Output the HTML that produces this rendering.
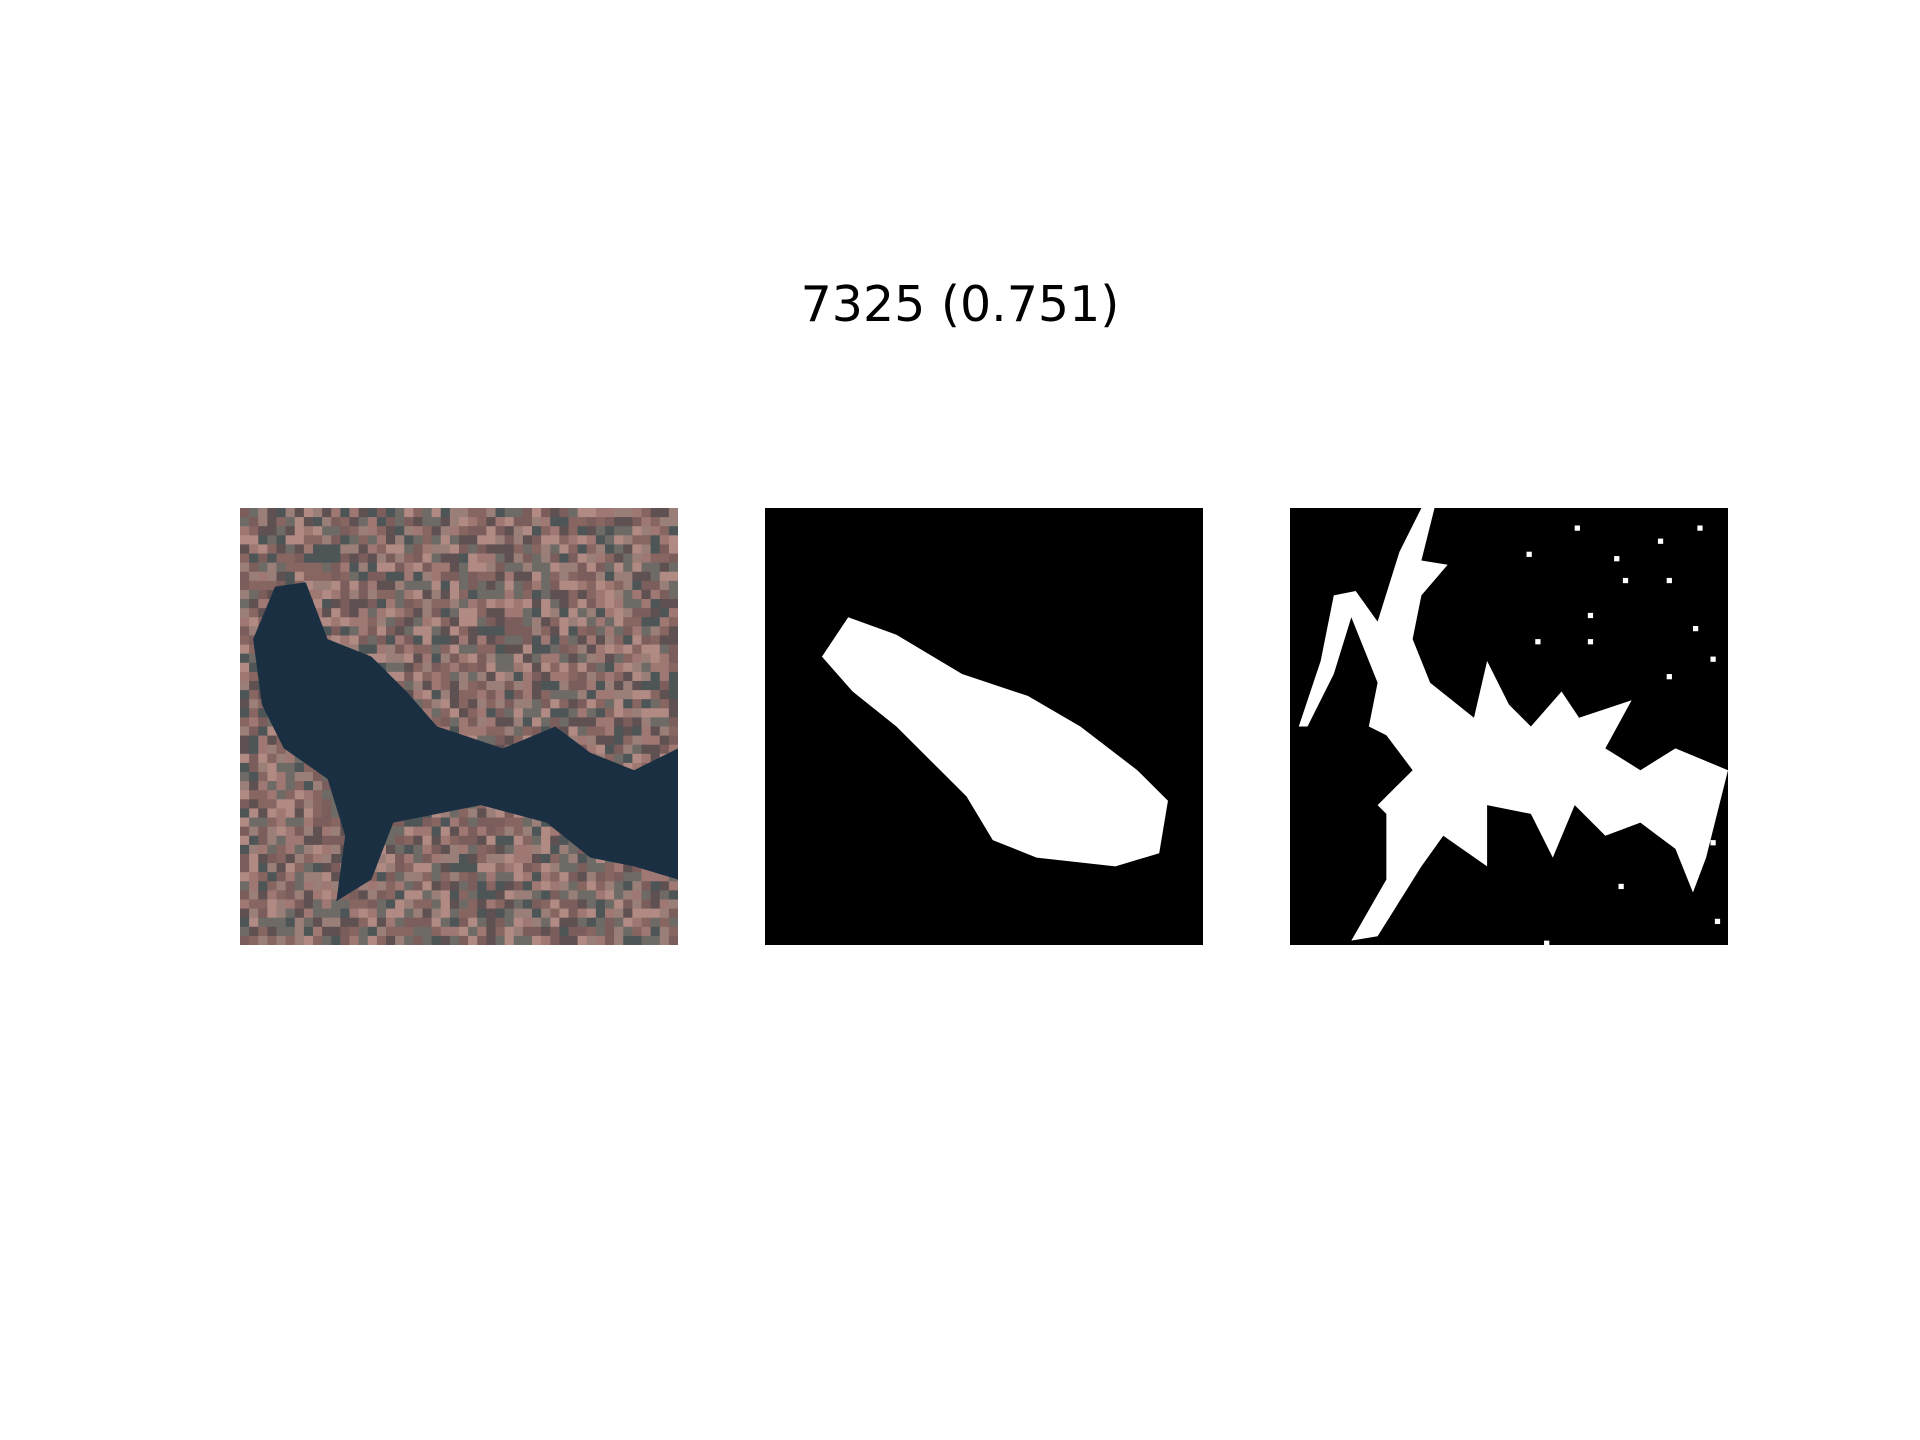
<!DOCTYPE html>
<html><head><meta charset="utf-8"><style>
html,body{margin:0;padding:0;background:#fff;width:1920px;height:1440px;overflow:hidden}
#title{position:absolute;left:0;width:1920px;top:276px;text-align:center;font:49px "DejaVu Sans","Liberation Sans",sans-serif;color:#000}
svg{position:absolute;top:508px}
</style></head><body>
<div id="title">7325 (0.751)</div>
<svg id="p1" style="left:240px" width="438" height="437" viewBox="0 0 1 1" preserveAspectRatio="none"></svg>
<svg id="p2" style="left:765px" width="438" height="437" viewBox="0 0 1 1" preserveAspectRatio="none"></svg>
<svg id="p3" style="left:1290px" width="438" height="437" viewBox="0 0 1 1" preserveAspectRatio="none"></svg>
<script>
const NS='http://www.w3.org/2000/svg';
const lakeShape=[[0.08,0.18],[0.15,0.17],[0.2,0.3],[0.3,0.34],[0.38,0.42],[0.45,0.5],[0.6,0.55],[0.72,0.5],[0.8,0.56],[0.9,0.6],[1,0.55],[1,0.85],[0.9,0.82],[0.8,0.8],[0.7,0.72],[0.55,0.68],[0.45,0.7],[0.35,0.72],[0.3,0.85],[0.22,0.9],[0.24,0.75],[0.2,0.62],[0.1,0.55],[0.05,0.45],[0.03,0.3]];
const blobShape=[[0.13,0.34],[0.19,0.25],[0.3,0.29],[0.45,0.38],[0.6,0.43],[0.72,0.5],[0.85,0.6],[0.92,0.67],[0.9,0.79],[0.8,0.82],[0.62,0.8],[0.52,0.76],[0.46,0.66],[0.38,0.58],[0.3,0.5],[0.2,0.42]];
const truthShape=[[0.1,0.2],[0.15,0.19],[0.2,0.26],[0.25,0.1],[0.3,0.0],[0.33,0.0],[0.3,0.12],[0.36,0.13],[0.3,0.2],[0.28,0.3],[0.32,0.4],[0.42,0.48],[0.45,0.35],[0.5,0.45],[0.55,0.5],[0.62,0.42],[0.66,0.48],[0.78,0.44],[0.72,0.55],[0.8,0.6],[0.88,0.55],[1,0.6],[0.95,0.8],[0.92,0.88],[0.88,0.78],[0.8,0.72],[0.72,0.75],[0.65,0.68],[0.6,0.8],[0.55,0.7],[0.45,0.68],[0.45,0.82],[0.35,0.75],[0.3,0.82],[0.2,0.98],[0.14,0.99],[0.22,0.85],[0.22,0.7],[0.2,0.68],[0.28,0.6],[0.22,0.52],[0.18,0.5],[0.2,0.4],[0.14,0.25],[0.1,0.38],[0.04,0.5],[0.02,0.5],[0.07,0.35]];
const dots=[[0.65,0.04],[0.93,0.04],[0.84,0.07],[0.54,0.1],[0.74,0.11],[0.86,0.16],[0.68,0.24],[0.76,0.16],[0.92,0.27],[0.68,0.3],[0.86,0.38],[0.96,0.34],[0.56,0.3],[0.96,0.76],[0.75,0.86],[0.58,0.99],[0.97,0.94]];
function poly(svg,pts,fill,name){
  const p=document.createElementNS(NS,'polygon');
  
  
  p.setAttribute('points',pts.map(q=>q.join(',')).join(' '));
  p.setAttribute('fill',fill);svg.appendChild(p);
}
function rect(svg,x,y,w,h,fill,name){
  const r=document.createElementNS(NS,'rect');
  
  
  r.setAttribute('x',x);r.setAttribute('y',y);r.setAttribute('width',w);r.setAttribute('height',h);r.setAttribute('fill',fill);svg.appendChild(r);
}
const p1=document.getElementById('p1'),p2=document.getElementById('p2'),p3=document.getElementById('p3');
rect(p1,0,0,1,1,'#86696a','land-background');
const pal=['#a07873','#7b5d5c','#9a7f79','#5f5052','#b08a83','#6e6a66','#876561','#4d5557'];
const N=48;
for(let i=0;i<N;i++)for(let j=0;j<N;j++){
  let h=Math.imul(i+1,73856093)^Math.imul(j+7,19349663);
  h=Math.imul(h^(h>>>13),1274126177);h^=h>>>16;
  rect(p1,i/N,j/N,1/N+0.001,1/N+0.001,pal[(h>>>0)%8],'land-texture-cell');}
poly(p1,lakeShape,'#1b2f42','lake-water');
rect(p2,0,0,1,1,'#000','mask-background');
poly(p2,blobShape,'#fff','predicted-water-blob');
rect(p3,0,0,1,1,'#000','mask-background');
poly(p3,truthShape,'#fff','true-water-region');
dots.forEach(d=>rect(p3,d[0],d[1],0.012,0.012,'#fff','noise-pixel'));
</script>
</body></html>
